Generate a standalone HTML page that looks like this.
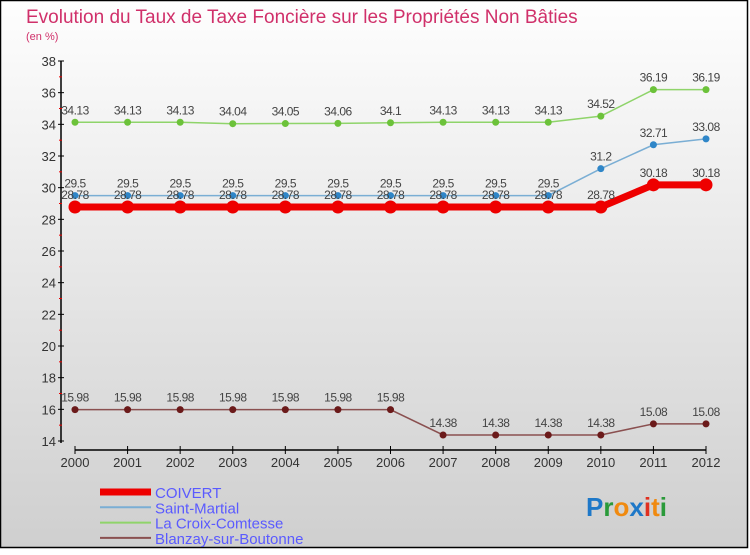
<!DOCTYPE html>
<html><head><meta charset="utf-8"><style>
html,body{margin:0;padding:0}
body{width:750px;height:550px;overflow:hidden;font-family:"Liberation Sans",sans-serif}
</style></head><body>
<svg width="750" height="550" xmlns="http://www.w3.org/2000/svg">
<defs><linearGradient id="bg" x1="0" y1="0" x2="0" y2="1"><stop offset="0" stop-color="#fefefe"/><stop offset="1" stop-color="#cfcfcf"/></linearGradient></defs>
<rect x="0.5" y="0.5" width="747" height="547" fill="url(#bg)" stroke="#000" stroke-width="1.5"/>
<text x="26" y="23" font-size="19" fill="#d0306a">Evolution du Taux de Taxe Foncière sur les Propriétés Non Bâties</text>
<text x="26" y="40" font-size="11" fill="#d0306a">(en %)</text>
<g id="axes"></g>
<g id="series"></g>
<g id="legend"></g>
<text x="586" y="516" font-size="26" font-weight="bold"><tspan fill="#1e78c8">P</tspan><tspan fill="#2a9a3a">r</tspan><tspan fill="#f08a10">o</tspan><tspan fill="#1e78c8">x</tspan><tspan fill="#e03020">i</tspan><tspan fill="#f08a10">t</tspan><tspan fill="#2a9a3a">i</tspan></text>
</svg>
<script>
const years=[2000,2001,2002,2003,2004,2005,2006,2007,2008,2009,2010,2011,2012];
const yTicks=[14,16,18,20,22,24,26,28,30,32,34,36,38];
const coivert=[28.78,28.78,28.78,28.78,28.78,28.78,28.78,28.78,28.78,28.78,28.78,30.18,30.18];
const saintMartial=[29.5,29.5,29.5,29.5,29.5,29.5,29.5,29.5,29.5,29.5,31.2,32.71,33.08];
const laCroix=[34.13,34.13,34.13,34.04,34.05,34.06,34.1,34.13,34.13,34.13,34.52,36.19,36.19];
const blanzay=[15.98,15.98,15.98,15.98,15.98,15.98,15.98,14.38,14.38,14.38,14.38,15.08,15.08];
const seriesNames=["COIVERT","Saint-Martial","La Croix-Comtesse","Blanzay-sur-Boutonne"];
const NS="http://www.w3.org/2000/svg";
const X=i=>75+i*(706-75)/(years.length-1);
const Y=v=>61+(38-v)*(441-61)/(38-14);
function mk(tag,attrs,parent,text){const e=document.createElementNS(NS,tag);for(const k in attrs)e.setAttribute(k,attrs[k]);if(text!==undefined)e.textContent=text;parent.appendChild(e);return e;}
const ax=document.getElementById('axes');
let a=mk('line',{x1:61,y1:Y(38),x2:61,y2:Y(14)+2,stroke:'#000','stroke-width':1.5},ax);

a=mk('line',{x1:X(0),y1:450,x2:X(12),y2:450,stroke:'#000','stroke-width':1.5},ax);

yTicks.forEach((t,i)=>{
 mk('line',{x1:58,y1:Y(t),x2:64,y2:Y(t),stroke:'#000'},ax);
 if(i<yTicks.length-1)mk('line',{x1:59,y1:Y(t+1),x2:62,y2:Y(t+1),stroke:'#e00'},ax);
 const l=mk('text',{x:56,y:Y(t)+5,'font-size':13,'text-anchor':'end',fill:'#333'},ax,String(t));
 
});
years.forEach((yr,i)=>{
 mk('line',{x1:X(i),y1:446,x2:X(i),y2:454,stroke:'#000'},ax);
 const l=mk('text',{x:X(i),y:467,'font-size':13,'text-anchor':'middle',fill:'#333'},ax,String(yr));
 
});
const sg=document.getElementById('series');
function draw(vals,color,lw,r,name,dot){
 const g=mk('g',{},sg);
 
 const pl=mk('polyline',{points:vals.map((v,i)=>X(i)+','+Y(v)).join(' '),fill:'none',stroke:color,'stroke-width':lw},g);
 
 vals.forEach((v,i)=>{
  const c=mk('circle',{cx:X(i),cy:Y(v),r:r,fill:dot},g);
  
  const t=mk('text',{x:X(i),y:Y(v)-8,'font-size':12,'text-anchor':'middle',fill:'#444','letter-spacing':'-0.5'},g,String(v));
  
 });
}
draw(laCroix,'#8fd46a',1.5,3.5,'la-croix-comtesse','#6cc23a');
draw(saintMartial,'#7aaed4',1.5,3.5,'saint-martial','#2f86c8');
draw(blanzay,'#8a5050',1.5,3.5,'blanzay-sur-boutonne','#6b1a1a');
draw(coivert,'#ee0000',7,6.5,'coivert','#ee0000');
const lg=document.getElementById('legend');
const lcol=['#ee0000','#7aaed4','#8fd46a','#8a5050'],lw=[7,2,2,2];
seriesNames.forEach((n,i)=>{
 const y=492+i*15.3;
 const e=mk('line',{x1:100,y1:y,x2:151,y2:y,stroke:lcol[i],'stroke-width':lw[i]},lg);
 
 const t=mk('text',{x:155,y:y+6,'font-size':15,fill:'#5a5aff'},lg,n);
 
});
</script>
</body></html>
